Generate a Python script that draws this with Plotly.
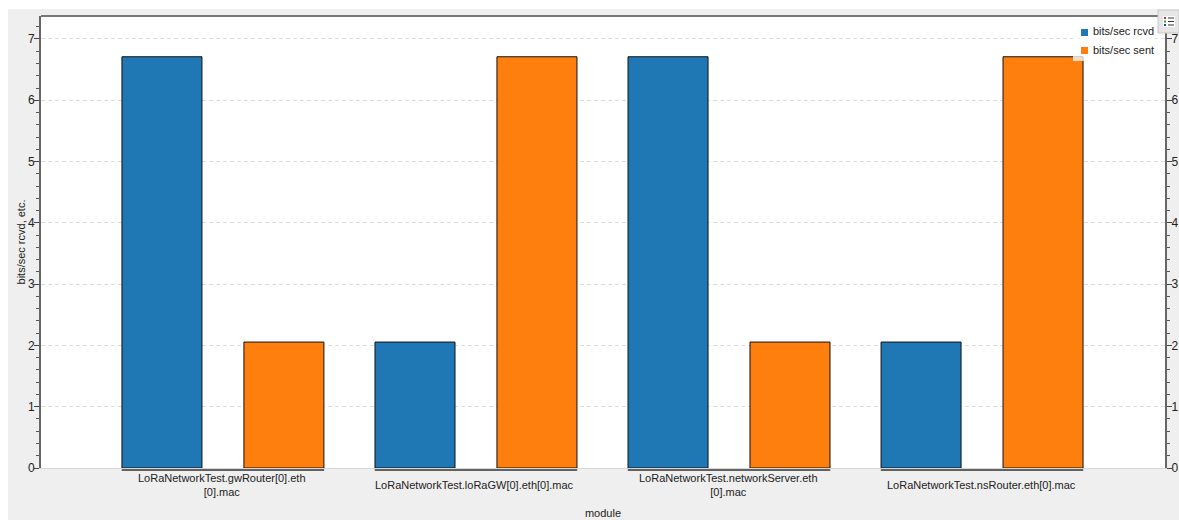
import plotly.graph_objects as go

modules = ["LoRaNetworkTest.gwRouter[0].eth [0].mac", "LoRaNetworkTest.loRaGW[0].eth[0].mac",
           "LoRaNetworkTest.networkServer.eth [0].mac", "LoRaNetworkTest.nsRouter.eth[0].mac"]
module_labels = ["LoRaNetworkTest.gwRouter[0].eth<br>[0].mac", "LoRaNetworkTest.loRaGW[0].eth[0].mac",
                 "LoRaNetworkTest.networkServer.eth<br>[0].mac", "LoRaNetworkTest.nsRouter.eth[0].mac"]
rcvd = [6.71, 2.055, 6.71, 2.055]
sent = [2.055, 6.71, 2.055, 6.71]
y_ticks = [0, 1, 2, 3, 4, 5, 6, 7]
BLUE, ORANGE = "#1f77b4", "#ff7f0e"
FONT = "Liberation Sans, Arial, sans-serif"
TXT = "#222"
# page offset of the figure (body margin) and plot box, in page pixels
OX, OY = 8, 9
W, H = 1179 - OX, 520 - OY
L, R, T, B = 41, 1165, 16, 468

def px(v): return (v - L) / (R - L)
def py(v): return 1 - (v - T) / (B - T)

def prect(x0, x1, y0, y1, fill, line=None):
    return dict(type="rect", xref="paper", yref="paper", x0=px(x0), x1=px(x1), y0=py(y1), y1=py(y0),
                fillcolor=fill, line=dict(color=line, width=1) if line else dict(width=0))

def pline(x0, x1, y0, y1, color, width=1):
    return dict(type="line", xref="paper", yref="paper", x0=px(x0), x1=px(x1), y0=py(y0), y1=py(y1),
                line=dict(color=color, width=width))

fig = go.Figure()
fig.add_bar(x=modules, y=rcvd, name="bits/sec rcvd", marker=dict(color=BLUE, line=dict(color="#111", width=1)), showlegend=False)
fig.add_bar(x=modules, y=sent, name="bits/sec sent", marker=dict(color=ORANGE, line=dict(color="#111", width=1)), showlegend=False)
for name, col in (("bits/sec rcvd", BLUE), ("bits/sec sent", ORANGE)):
    fig.add_scatter(x=[None], y=[None], mode="markers", name=name,
                    marker=dict(symbol="square", size=7, color="rgba(0,0,0,0)", line=dict(width=0)))
fig.add_scatter(x=[None], y=[None], yaxis="y2", showlegend=False, hoverinfo="skip")

shapes = [pline(L, R, T, T, "#777", 2),
          prect(1073, 1155, 24, 61, "rgba(255,255,255,0.75)"),
          prect(1081, 1088, 29, 36, BLUE),
          prect(1081, 1088, 47, 54, ORANGE),
          prect(1158, 1179, 10, 33, "#e6e6e6", "#c8c8c8"),
          prect(1163, 1175, 16, 27, "white")]
for i in range(len(modules)):
    shapes.append(dict(type="line", xref="x", yref="paper", x0=i - 0.4, x1=i + 0.4,
                       y0=py(470), y1=py(470), line=dict(color="#333", width=1.5)))
for yy, c in ((18, "#d62728"), (21.5, "#2ca02c"), (25, "#1f3fd4")):
    shapes.append(prect(1164, 1166, yy - 1, yy + 1, c))
    shapes.append(pline(1168, 1174, yy, yy, "#333"))

annotations = [dict(x=i, xref="x", y=py(485.5), yref="paper", text=t, showarrow=False, xanchor="center",
                    xshift=-1, yanchor="middle", font=dict(family=FONT, size=11, color=TXT))
               for i, t in enumerate(module_labels)]

tickstyle = dict(tickmode="array", tickvals=y_ticks, ticks="outside", ticklen=5, tickwidth=1, tickcolor="#444",
                 tickfont=dict(family=FONT, size=12, color=TXT), ticklabelstandoff=-3, automargin=False,
                 minor=dict(dtick=0.2, ticks="outside", ticklen=3, tickwidth=1, tickcolor="#555", showgrid=False),
                 showline=True, linecolor="#666", linewidth=2, range=[0, 7.375], zeroline=False)

fig.update_layout(
    width=W, height=H, autosize=False, barmode="group", bargap=0.036, bargroupgap=0.344,
    margin=dict(l=L - OX, r=W + OX - R, t=T - OY, b=H + OY - B, pad=0, autoexpand=False),
    paper_bgcolor="#efefef", plot_bgcolor="white",
    font=dict(family=FONT, size=11, color=TXT),
    shapes=shapes, annotations=annotations,
    xaxis=dict(range=[-0.719, 3.723], ticks="", showgrid=False, showline=True, linecolor="#d8d8d8", linewidth=1,
               showticklabels=False, automargin=False,
               title=dict(text="module", font=dict(family=FONT, size=11, color=TXT), standoff=41)),
    yaxis=dict(title=dict(text="bits/sec rcvd, etc.", font=dict(family=FONT, size=11, color=TXT), standoff=0),
               showgrid=True, gridcolor="#dcdcdc", griddash="4px,3px", gridwidth=1, **tickstyle),
    yaxis2=dict(overlaying="y", side="right", showgrid=False, **tickstyle),
    legend=dict(x=px(1160), xanchor="right", y=py(16.5), yanchor="top", bgcolor="rgba(0,0,0,0)",
                borderwidth=0, font=dict(family=FONT, size=11, color=TXT), tracegroupgap=0, itemsizing="trace"),
)
page_fit = ("var b=document.body;b.style.margin='%dpx 0 0 %dpx';b.style.width='%dpx';b.style.height='%dpx';"
            "b.style.overflow='hidden';document.documentElement.style.overflow='hidden';" % (OY, OX, W, H))
fig.write_html("out.html", post_script=page_fit)
